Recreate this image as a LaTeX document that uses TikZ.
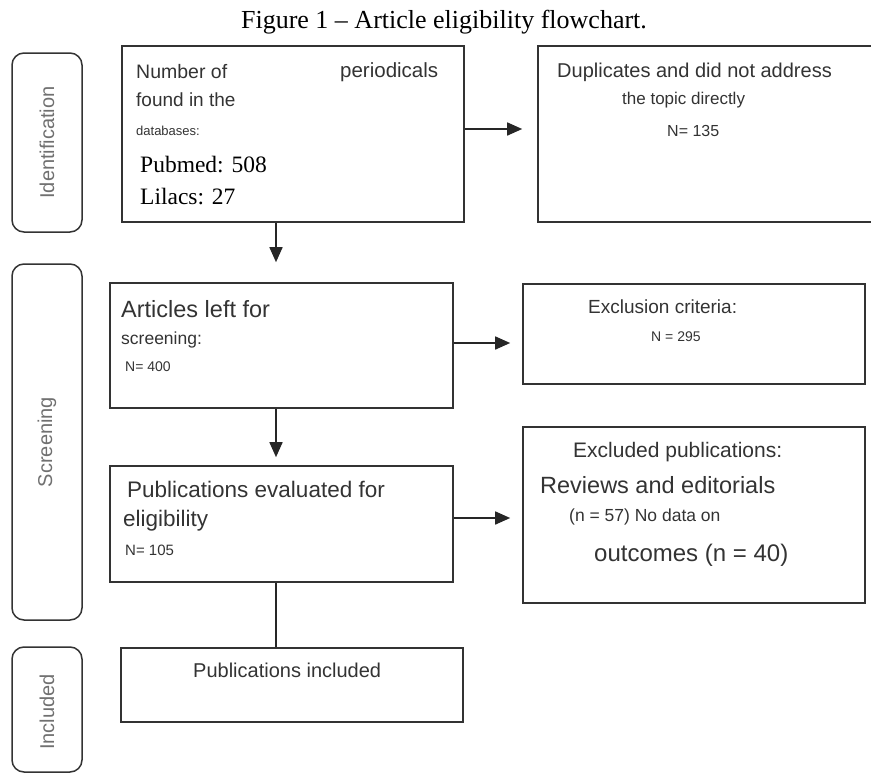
\documentclass[tikz,border=0pt]{standalone}
\usepackage{fontspec}
\setmainfont{Liberation Serif}
\setsansfont{Liberation Sans}
\usetikzlibrary{arrows.meta}
\definecolor{ink}{HTML}{333333}
\definecolor{sidegray}{HTML}{707070}
\newcommand{\sz}[1]{\fontsize{#1}{#1}\selectfont}
\tikzset{
  stagebox/.style={draw=ink, line width=1.5pt, rounded corners=12pt, minimum width=70pt},
  stepbox/.style={draw=ink, line width=1.6pt},
  boxtext/.style={anchor=west, inner sep=0pt, text=ink, font=\sffamily\sz{#1}},
  serftext/.style={anchor=west, inner sep=0pt, text=black, font=\rmfamily\sz{#1}},
  stagetext/.style={rotate=90, inner sep=0pt, text=sidegray, font=\sffamily\sz{20}},
  arr/.style={draw=black!85, line width=1.6pt, -{Triangle[length=15pt,width=13pt]}}
}
\begin{document}
\begin{tikzpicture}[x=1pt,y=-1pt]
  \useasboundingbox (0,0) rectangle (871,774);
  \node[font=\rmfamily\sz{26}] (title) at (444,22) {Figure 1 – Article eligibility flowchart.};

  %stages on the left
  \node[stagebox, minimum height=179pt] (sid) at (47,142.5) {};
  \node[stagetext] (tid) at (sid) {Identification};
  \node[stagebox, minimum height=356pt] (sscr) at (47,442) {};
  \node[stagetext] (tscr) at (sscr) {Screening};
  \node[stagebox, minimum height=125pt] (sinc) at (47,709.5) {};
  \node[stagetext] (tinc) at (47,712) {Included};

  %boxes
  \node[stepbox, minimum width=342pt, minimum height=176pt] (nper) at (293,134) {};
  \node[stepbox, minimum width=340pt, minimum height=176pt] (dup) at (708,134) {};
  \node[stepbox, minimum width=343pt, minimum height=125pt] (art) at (281.5,345.5) {};
  \node[stepbox, minimum width=342pt, minimum height=100pt] (excl) at (694,334) {};
  \node[stepbox, minimum width=343pt, minimum height=116pt] (eval) at (281.5,524) {};
  \node[stepbox, minimum width=342pt, minimum height=176pt] (exd) at (694,515) {};
  \node[stepbox, minimum width=342pt, minimum height=74pt] (incl) at (292,685) {};

  %texts of the boxes
  \node[boxtext=19.5] (t1a) at (136,72) {Number of};
  \node[boxtext=20.5] (t1b) at (340,72) {periodicals};
  \node[boxtext=19] (t1c) at (136,100) {found in the};
  \node[boxtext=13] (t1d) at (136,131) {databases:};
  \node[serftext=23.5] (t1e) at (140,165) {Pubmed: 508};
  \node[serftext=23.5] (t1f) at (140,197) {Lilacs: 27};

  \node[boxtext=20] (t2a) at (557,72) {Duplicates and did not address};
  \node[boxtext=17] (t2b) at (622,100) {the topic directly};
  \node[boxtext=16] (t2c) at (667,131) {N= 135};

  \node[boxtext=23.5] (t3a) at (121,309) {Articles left for};
  \node[boxtext=17.5] (t3b) at (121,340) {screening:};
  \node[boxtext=14] (t3c) at (125,367) {N= 400};

  \node[boxtext=19] (t4a) at (588,307) {Exclusion criteria:};
  \node[boxtext=14] (t4b) at (651,337) {N = 295};

  \node[boxtext=22.5] (t5a) at (127,489) {Publications evaluated for};
  \node[boxtext=22.5] (t5b) at (123,521) {eligibility};
  \node[boxtext=15] (t5c) at (125,550) {N= 105};

  \node[boxtext=21] (t6a) at (573,452) {Excluded publications:};
  \node[boxtext=23.5] (t6b) at (540,485) {Reviews and editorials};
  \node[boxtext=17.5] (t6c) at (569,517) {(n = 57) No data on};
  \node[boxtext=24] (t6d) at (594,555) {outcomes (n = 40)};

  \node[boxtext=20] (t7a) at (193,670) {Publications included};

  %connectors
  \coordinate (c1) at (276,0);
  \coordinate (r1) at (0,129);
  \coordinate (r2) at (0,343);
  \coordinate (r3) at (0,518);
  \draw[arr, shorten >=15pt] (nper.east |- r1) -- (dup.west |- r1);
  \draw[arr, shorten >=20pt] (nper.south -| c1) -- (art.north -| c1);
  \draw[arr, shorten >=12pt] (art.east |- r2) -- (excl.west |- r2);
  \draw[arr, shorten >=8pt] (art.south -| c1) -- (eval.north -| c1);
  \draw[arr, shorten >=12pt] (eval.east |- r3) -- (exd.west |- r3);
  \draw[draw=black!85, line width=1.6pt] (eval.south -| c1) -- (incl.north -| c1);
\end{tikzpicture}
\end{document}
